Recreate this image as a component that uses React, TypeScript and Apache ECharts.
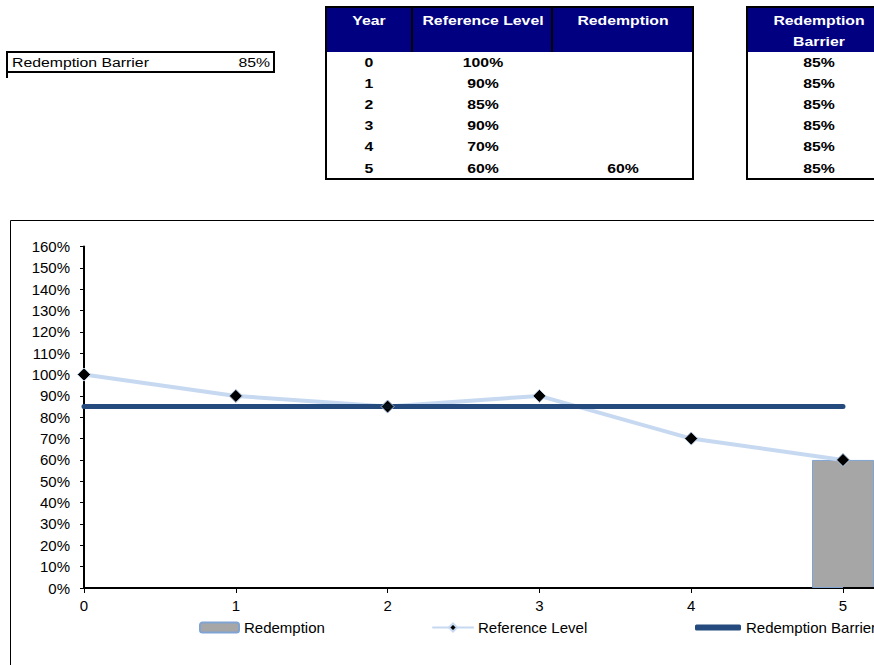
import React, { useEffect, useRef } from "react";
import * as echarts from "echarts";

const years = [0, 1, 2, 3, 4, 5];
const referenceLevels = [1.0, 0.9, 0.85, 0.9, 0.7, 0.6];
const redemptions: (number | null)[] = [null, null, null, null, null, 0.6];
const barrierLevels = [0.85, 0.85, 0.85, 0.85, 0.85, 0.85];
const barrierSetting = 0.85;
const tableHeaders = ["Year", "Reference Level", "Redemption"];
const barrierHeader = ["Redemption", "Barrier"];

const FONT = "Liberation Sans, Arial, sans-serif";
const NAVY = "#000080";
const REF_COLOR = "#C6D9F1";
const BAR_LINE = "#254B7E";
const CHART_FONT_SIZE = 15;

const pct = (v: number) => Math.round(v * 100) + "%";

export default function App() {
  const ref = useRef<HTMLDivElement>(null);
  useEffect(() => {
    if (!ref.current) return;
    const chart = echarts.init(ref.current, undefined, { renderer: "svg" });

    const txt = (
      text: string,
      x: number,
      y: number,
      align: string,
      opts: any = {}
    ) => ({
      type: "text",
      x,
      y,
      scaleX: 1.17,
      z: 10,
      style: {
        text,
        fill: opts.fill || "#000",
        font: `${opts.bold ? "bold " : ""}${opts.size || 13.5}px ${FONT}`,
        textAlign: align,
        textVerticalAlign: "middle",
      },
    });

    const rowY = (i: number) => 62 + i * 21.2;
    const graphics: any[] = [];
    // single setting box
    graphics.push({
      type: "rect",
      shape: { x: 7, y: 52, width: 267, height: 20 },
      style: { fill: "#fff", stroke: "#000", lineWidth: 2 },
    });
    graphics.push({
      type: "line",
      shape: { x1: 7, y1: 72, x2: 7, y2: 78 },
      style: { stroke: "#000", lineWidth: 2 },
    });
    graphics.push(txt("Redemption Barrier", 12, 62, "left"));
    graphics.push(txt(pct(barrierSetting), 270, 62, "right"));

    // table 1
    graphics.push({
      type: "rect",
      shape: { x: 326, y: 7, width: 367, height: 172 },
      style: { fill: "#fff", stroke: "#000", lineWidth: 2 },
    });
    graphics.push({
      type: "rect",
      shape: { x: 327, y: 8, width: 365, height: 44 },
      style: { fill: NAVY },
    });
    [412, 552].forEach((x) =>
      graphics.push({
        type: "line",
        shape: { x1: x, y1: 8, x2: x, y2: 52 },
        style: { stroke: "#000", lineWidth: 2 },
      })
    );
    const colX = [369, 483, 623];
    tableHeaders.forEach((h, i) =>
      graphics.push(txt(h, colX[i], 20, "center", { bold: true, fill: "#fff" }))
    );
    years.forEach((y, i) => {
      graphics.push(txt(String(y), colX[0], rowY(i), "center", { bold: true }));
      graphics.push(txt(pct(referenceLevels[i]), colX[1], rowY(i), "center", { bold: true }));
      const r = redemptions[i];
      if (r != null) graphics.push(txt(pct(r), colX[2], rowY(i), "center", { bold: true }));
    });

    // table 2
    graphics.push({
      type: "rect",
      shape: { x: 747, y: 7, width: 200, height: 172 },
      style: { fill: "#fff", stroke: "#000", lineWidth: 2 },
    });
    graphics.push({
      type: "rect",
      shape: { x: 748, y: 8, width: 200, height: 44 },
      style: { fill: NAVY },
    });
    barrierHeader.forEach((h, i) =>
      graphics.push(txt(h, 819, 20 + i * 21, "center", { bold: true, fill: "#fff" }))
    );
    barrierLevels.forEach((b, i) =>
      graphics.push(txt(pct(b), 819, rowY(i), "center", { bold: true }))
    );

    // chart frame
    graphics.push({
      type: "rect",
      shape: { x: 10.5, y: 220.5, width: 900, height: 500 },
      style: { fill: "none", stroke: "#000", lineWidth: 1 },
      z: -1,
    });
    // x-axis line continues past the last category to the cut-off edge
    graphics.push({
      type: "line",
      shape: { x1: 843, y1: 588, x2: 880, y2: 588 },
      style: { stroke: "#000", lineWidth: 2 },
      z: 5,
    });

    const legendBase = {
      top: 620,
      itemHeight: 10,
      textStyle: { fontFamily: FONT, fontSize: CHART_FONT_SIZE, color: "#000" },
      padding: 0,
      itemGap: 0,
    };

    chart.setOption({
      animation: false,
      backgroundColor: "#fff",
      graphic: graphics,
      legend: [
        { ...legendBase, data: ["Redemption"], left: 199, itemWidth: 39 },
        { ...legendBase, data: ["Reference Level"], left: 432, itemWidth: 40 },
        {
          ...legendBase,
          data: [{ name: "Redemption Barrier", icon: "roundRect" }],
          left: 695,
          itemWidth: 46,
          itemHeight: 6,
        },
      ],
      grid: { left: 84, right: 31, top: 246.5, bottom: 77 },
      xAxis: {
        type: "category",
        data: years.map(String),
        boundaryGap: false,
        splitLine: { show: false },
        axisLine: { lineStyle: { color: "#000", width: 2 } },
        axisTick: { inside: false, length: 5, alignWithLabel: true, lineStyle: { color: "#000" } },
        axisLabel: {
          margin: 10,
          fontFamily: FONT,
          fontSize: CHART_FONT_SIZE,
          color: "#000",
        },
      },
      yAxis: {
        type: "value",
        min: 0,
        max: 1.6,
        interval: 0.1,
        splitLine: { show: false },
        axisLine: { show: true, lineStyle: { color: "#000", width: 2 } },
        axisTick: { show: true, inside: false, length: 4, lineStyle: { color: "#000" } },
        axisLabel: {
          margin: 14,
          fontFamily: FONT,
          fontSize: CHART_FONT_SIZE,
          color: "#000",
          formatter: (v: number) => Math.round(v * 100) + "%",
        },
      },
      series: [
        {
          name: "Redemption",
          type: "bar",
          barWidth: 62,
          clip: false,
          data: redemptions.map((r) => (r == null ? "-" : r)),
          itemStyle: { color: "#A6A6A6", borderColor: "#7FA3D3", borderWidth: 1 },
          z: 1,
        },
        {
          name: "Reference Level",
          type: "line",
          data: referenceLevels,
          symbol: "diamond",
          symbolSize: 13,
          lineStyle: { color: REF_COLOR, width: 4, cap: "round" },
          itemStyle: { color: "#000", borderColor: REF_COLOR, borderWidth: 1 },
          z: 2,
        },
        {
          name: "Redemption Barrier",
          type: "line",
          data: barrierLevels,
          symbol: "none",
          lineStyle: { color: BAR_LINE, width: 5, cap: "round" },
          itemStyle: { color: BAR_LINE },
          z: 3,
        },
        {
          name: "Reference Level markers",
          type: "scatter",
          data: referenceLevels,
          symbol: "diamond",
          symbolSize: 13,
          itemStyle: { color: "#000", borderColor: REF_COLOR, borderWidth: 1 },
          z: 4,
        },
      ],
    });
    return () => chart.dispose();
  }, []);
  return (
    <div
      ref={ref}
      style={{ position: "absolute", left: 0, top: 0, width: 874, height: 665 }}
    />
  );
}
